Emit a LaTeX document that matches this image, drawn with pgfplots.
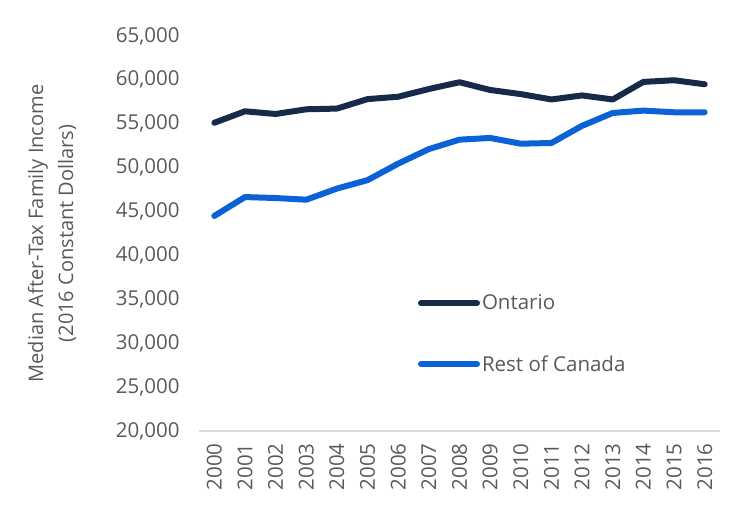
\documentclass[border=0pt]{standalone}
\usepackage{pgfplots}
\pgfplotsset{compat=1.18}
\usepackage{fontspec}
\setmainfont{Open Sans}
\definecolor{navy}{RGB}{23,42,74}
\definecolor{brightblue}{RGB}{11,98,214}
\definecolor{txtgray}{RGB}{89,89,89}
\definecolor{axgray}{RGB}{217,217,217}

\begin{document}
\begin{tikzpicture}
\path[use as bounding box] (-199pt,-90pt) rectangle (551pt,431pt);
\begin{axis}[
  at={(0pt,0pt)}, anchor=south west,
  scale only axis,
  width=521pt, height=395pt,
  xmin=-0.5, xmax=16.5,
  ymin=20000, ymax=65000,
  ytick={20000,25000,...,65000},
  xtick={0,...,16},
  xticklabels={2000,2001,2002,2003,2004,2005,2006,2007,2008,2009,2010,2011,2012,2013,2014,2015,2016},
  axis x line*=bottom, axis y line*=left,
  y axis line style={draw=none},
  x axis line style={draw=axgray, line width=1.5pt, -},
  major tick length=0pt,
  font=\fontsize{20.5}{24}\selectfont,
  tick label style={text=txtgray},
  /pgf/number format/assume math mode=true,
  /pgf/number format/.cd, 1000 sep={,}, /pgfplots/.cd,
  scaled y ticks=false,
  yticklabel style={xshift=-16pt},
  xticklabel style={rotate=90, anchor=east, xshift=-9pt},
  ylabel={Median After-Tax Family Income\\(2016 Constant Dollars)},
  every axis y label/.style={at={(axis description cs:-0.282,0.5)}, rotate=90, anchor=center,
    align=center, text=txtgray, font=\fontsize{20}{30}\selectfont},
  legend style={draw=none, fill=none, at={(axis description cs:0.42,0.35)}, anchor=north west,
    font=\fontsize{20.5}{24}\selectfont, text=txtgray, row sep=40pt, inner sep=0pt,
    /tikz/every even column/.append style={column sep=0pt}},
  legend cell align=left,
  legend image code/.code={\draw[#1, line cap=round] (0pt,0pt) -- (56pt,0pt);},
]
\addplot[navy, line width=6pt, line join=round, line cap=round] coordinates {
  (0,55115) (1,56420) (2,56115) (3,56650) (4,56730) (5,57810) (6,58080)
  (7,58960) (8,59730) (9,58850) (10,58380) (11,57770) (12,58230)
  (13,57770) (14,59770) (15,59960) (16,59500)
};
\addlegendentry{Ontario}
\addplot[brightblue, line width=6pt, line join=round, line cap=round] coordinates {
  (0,44500) (1,46650) (2,46540) (3,46350) (4,47615) (5,48580) (6,50460)
  (7,52115) (8,53190) (9,53385) (10,52730) (11,52810) (12,54770)
  (13,56230) (14,56500) (15,56310) (16,56310)
};
\addlegendentry{Rest of Canada}
\end{axis}
\end{tikzpicture}
\end{document}
